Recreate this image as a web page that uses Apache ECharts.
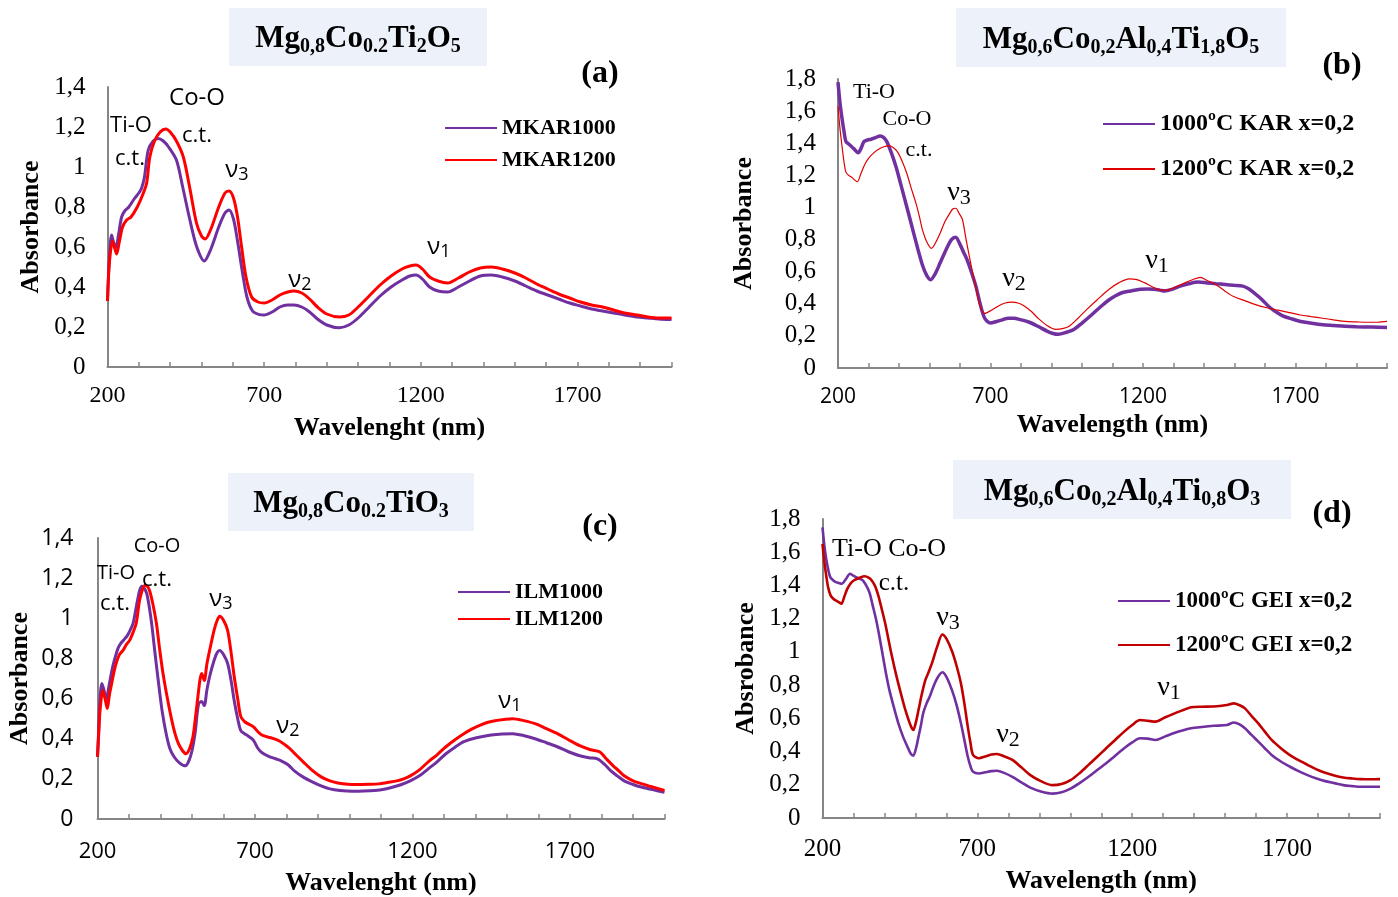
<!DOCTYPE html>
<html style="height: 100%">
<head>
    <meta charset="utf-8">
    <title>Absorbance spectra</title>
    <script src="https://cdn.jsdelivr.net/npm/echarts@6/dist/echarts.min.js"></script>
</head>
<body style="height: 100%; margin: 0; background: #fff">
<div id="main" style="width: 1398px; height: 897px"></div>

<script type="text/javascript">

    // ---- data: [wavelength nm, absorbance] ----
    var xTicks = [200, 700, 1200, 1700];

    var mkar1000 = [[200,0.33],[206,0.55],[213,0.66],[220,0.62],[227,0.6],[235,0.66],[245,0.75],[255,0.78],[268,0.8],[285,0.84],[300,0.87],[309,0.895],[318,0.95],[330,1.085],[346,1.13],[362,1.143],[378,1.13],[395,1.1],[420,1.035],[440,0.9],[463,0.735],[485,0.6],[509,0.53],[530,0.59],[555,0.7],[575,0.77],[588,0.785],[602,0.74],[615,0.63],[630,0.48],[645,0.35],[663,0.28],[685,0.262],[700,0.26],[725,0.275],[750,0.3],[775,0.31],[795,0.31],[820,0.3],[845,0.275],[870,0.24],[900,0.21],[940,0.196],[970,0.21],[1000,0.245],[1035,0.3],[1070,0.355],[1105,0.4],[1140,0.435],[1165,0.455],[1185,0.46],[1205,0.44],[1228,0.4],[1255,0.38],[1285,0.375],[1320,0.4],[1355,0.43],[1390,0.455],[1425,0.46],[1460,0.45],[1500,0.43],[1535,0.405],[1570,0.38],[1605,0.36],[1640,0.34],[1675,0.32],[1710,0.305],[1745,0.29],[1780,0.28],[1815,0.27],[1850,0.26],[1890,0.25],[1925,0.245],[1960,0.24],[2000,0.237]];
    var mkar1200 = [[200,0.33],[206,0.52],[216,0.63],[222,0.6],[229,0.565],[237,0.62],[248,0.7],[261,0.735],[275,0.75],[295,0.8],[312,0.86],[325,0.92],[335,1.05],[350,1.13],[368,1.175],[386,1.19],[400,1.175],[420,1.13],[442,1.05],[462,0.9],[484,0.72],[500,0.655],[512,0.64],[530,0.69],[555,0.8],[575,0.87],[588,0.88],[602,0.845],[615,0.75],[628,0.6],[642,0.45],[660,0.35],[680,0.325],[700,0.32],[725,0.335],[750,0.36],[775,0.375],[795,0.38],[820,0.37],[845,0.34],[870,0.3],[900,0.265],[940,0.25],[970,0.26],[1000,0.3],[1035,0.355],[1070,0.41],[1105,0.455],[1140,0.49],[1165,0.505],[1185,0.51],[1205,0.49],[1228,0.45],[1255,0.43],[1285,0.42],[1320,0.445],[1355,0.475],[1390,0.495],[1425,0.5],[1460,0.49],[1500,0.47],[1535,0.445],[1570,0.415],[1605,0.39],[1640,0.365],[1675,0.345],[1710,0.325],[1745,0.31],[1780,0.3],[1815,0.285],[1850,0.27],[1890,0.26],[1925,0.25],[1960,0.245],[2000,0.245]];

    var kar1000 = [[200,1.78],[206,1.66],[212,1.57],[220,1.47],[226,1.41],[235,1.395],[244,1.38],[255,1.36],[266,1.34],[276,1.37],[285,1.41],[297,1.42],[309,1.425],[323,1.435],[338,1.445],[350,1.435],[360,1.41],[375,1.34],[390,1.255],[405,1.15],[419,1.05],[433,0.95],[448,0.84],[462,0.74],[477,0.64],[490,0.58],[503,0.55],[518,0.585],[535,0.655],[555,0.74],[572,0.8],[586,0.815],[600,0.77],[612,0.72],[623,0.675],[637,0.6],[652,0.51],[666,0.4],[681,0.31],[700,0.28],[720,0.29],[739,0.3],[758,0.31],[776,0.31],[800,0.3],[827,0.285],[855,0.26],[885,0.23],[905,0.215],[922,0.21],[945,0.22],[973,0.24],[1000,0.28],[1031,0.33],[1060,0.38],[1089,0.425],[1110,0.45],[1133,0.47],[1160,0.48],[1191,0.49],[1215,0.492],[1235,0.49],[1255,0.485],[1271,0.48],[1295,0.49],[1322,0.51],[1350,0.525],[1381,0.535],[1410,0.53],[1439,0.525],[1470,0.52],[1497,0.515],[1527,0.51],[1545,0.495],[1563,0.47],[1588,0.43],[1614,0.38],[1636,0.35],[1658,0.325],[1690,0.305],[1717,0.29],[1750,0.28],[1789,0.27],[1825,0.265],[1862,0.26],[1900,0.257],[1950,0.255],[2000,0.253]];
    var kar1200 = [[200,1.63],[206,1.5],[212,1.4],[220,1.28],[226,1.22],[235,1.2],[244,1.19],[255,1.17],[263,1.16],[275,1.21],[287,1.265],[300,1.305],[317,1.34],[340,1.37],[355,1.38],[368,1.385],[383,1.37],[397,1.34],[412,1.28],[426,1.21],[440,1.12],[455,1.03],[466,0.95],[477,0.86],[490,0.79],[506,0.745],[520,0.78],[535,0.84],[550,0.91],[564,0.955],[576,0.99],[586,0.995],[598,0.96],[608,0.925],[620,0.8],[637,0.635],[652,0.5],[666,0.385],[681,0.34],[703,0.36],[725,0.385],[748,0.405],[769,0.41],[790,0.405],[812,0.385],[835,0.35],[856,0.31],[885,0.265],[914,0.24],[936,0.245],[958,0.26],[987,0.31],[1016,0.365],[1050,0.425],[1089,0.49],[1120,0.53],[1155,0.555],[1180,0.55],[1206,0.53],[1232,0.505],[1257,0.485],[1279,0.485],[1308,0.505],[1337,0.53],[1362,0.55],[1388,0.565],[1410,0.545],[1439,0.52],[1468,0.48],[1497,0.445],[1533,0.42],[1569,0.395],[1606,0.375],[1643,0.36],[1680,0.345],[1716,0.33],[1752,0.32],[1789,0.31],[1825,0.3],[1862,0.29],[1900,0.287],[1935,0.285],[1970,0.285],[2000,0.29]];

    var ilm1000 = [[200,0.31],[204,0.45],[207,0.575],[214,0.675],[221,0.64],[228,0.59],[235,0.65],[242,0.71],[250,0.77],[257,0.81],[265,0.85],[274,0.875],[285,0.895],[295,0.915],[305,0.945],[313,0.975],[320,1.03],[327,1.09],[334,1.14],[341,1.16],[348,1.15],[356,1.125],[365,1.05],[373,0.96],[383,0.82],[394,0.675],[405,0.54],[418,0.425],[430,0.35],[443,0.31],[460,0.28],[479,0.265],[490,0.29],[500,0.34],[510,0.43],[521,0.575],[531,0.585],[539,0.565],[547,0.64],[556,0.71],[570,0.79],[580,0.83],[588,0.84],[600,0.82],[613,0.775],[624,0.69],[634,0.59],[645,0.5],[655,0.44],[667,0.425],[677,0.415],[690,0.4],[698,0.385],[708,0.355],[719,0.335],[733,0.32],[747,0.31],[765,0.3],[783,0.29],[805,0.27],[825,0.24],[852,0.21],[882,0.185],[910,0.165],[938,0.15],[970,0.142],[1009,0.138],[1045,0.139],[1080,0.142],[1110,0.148],[1136,0.158],[1165,0.172],[1193,0.19],[1222,0.215],[1250,0.25],[1278,0.285],[1306,0.325],[1335,0.358],[1363,0.385],[1391,0.4],[1419,0.41],[1450,0.418],[1485,0.423],[1518,0.425],[1555,0.415],[1589,0.4],[1625,0.38],[1660,0.36],[1695,0.335],[1731,0.315],[1760,0.305],[1787,0.3],[1808,0.275],[1830,0.24],[1850,0.215],[1872,0.19],[1900,0.172],[1929,0.158],[1965,0.145],[2000,0.133]];
    var ilm1200 = [[200,0.31],[204,0.43],[208,0.54],[217,0.64],[224,0.6],[231,0.55],[238,0.62],[245,0.675],[252,0.73],[259,0.775],[270,0.82],[281,0.84],[292,0.87],[302,0.89],[313,0.93],[323,0.975],[333,1.085],[342,1.14],[351,1.165],[358,1.16],[365,1.14],[376,1.07],[387,0.975],[397,0.85],[408,0.725],[422,0.6],[436,0.49],[447,0.42],[457,0.375],[470,0.34],[481,0.325],[492,0.35],[503,0.41],[512,0.52],[521,0.64],[526,0.7],[531,0.725],[539,0.69],[547,0.77],[556,0.84],[570,0.94],[580,0.99],[588,1.01],[600,0.99],[613,0.94],[624,0.83],[634,0.71],[645,0.6],[655,0.51],[667,0.485],[677,0.475],[690,0.465],[698,0.455],[712,0.43],[726,0.415],[750,0.405],[776,0.39],[795,0.37],[811,0.35],[830,0.32],[853,0.285],[880,0.245],[910,0.21],[938,0.19],[967,0.178],[995,0.173],[1023,0.172],[1060,0.173],[1094,0.175],[1120,0.182],[1150,0.19],[1172,0.2],[1193,0.215],[1222,0.245],[1250,0.285],[1278,0.32],[1306,0.36],[1335,0.395],[1363,0.425],[1391,0.45],[1419,0.47],[1440,0.482],[1462,0.49],[1490,0.496],[1518,0.5],[1553,0.49],[1589,0.475],[1625,0.45],[1660,0.425],[1695,0.395],[1731,0.365],[1765,0.345],[1794,0.335],[1815,0.3],[1837,0.265],[1855,0.24],[1872,0.215],[1900,0.19],[1929,0.175],[1965,0.158],[2000,0.142]];

    var gei1000 = [[200,1.75],[206,1.64],[212,1.56],[218,1.5],[225,1.45],[235,1.43],[243,1.42],[252,1.415],[262,1.41],[276,1.44],[289,1.47],[298,1.46],[308,1.45],[320,1.44],[330,1.43],[341,1.4],[352,1.355],[362,1.28],[373,1.195],[384,1.09],[395,0.975],[405,0.87],[416,0.77],[430,0.67],[445,0.57],[460,0.49],[474,0.43],[484,0.39],[493,0.375],[502,0.42],[510,0.49],[518,0.56],[525,0.63],[536,0.69],[546,0.73],[558,0.79],[570,0.84],[587,0.877],[600,0.85],[618,0.77],[633,0.68],[647,0.57],[658,0.47],[669,0.37],[678,0.31],[686,0.278],[705,0.268],[725,0.275],[745,0.282],[763,0.284],[788,0.27],[813,0.248],[842,0.215],[871,0.183],[905,0.16],[943,0.147],[972,0.155],[1001,0.177],[1030,0.21],[1059,0.248],[1088,0.29],[1116,0.329],[1145,0.375],[1174,0.42],[1200,0.455],[1225,0.48],[1250,0.478],[1275,0.47],[1305,0.49],[1333,0.51],[1362,0.527],[1390,0.54],[1425,0.548],[1463,0.555],[1506,0.56],[1528,0.575],[1545,0.565],[1564,0.54],[1585,0.5],[1607,0.46],[1628,0.42],[1650,0.38],[1680,0.34],[1708,0.31],[1737,0.282],[1766,0.258],[1795,0.238],[1823,0.222],[1852,0.21],[1881,0.198],[1910,0.192],[1939,0.188],[1970,0.188],[2000,0.188]];
    var gei1200 = [[200,1.65],[206,1.54],[212,1.46],[218,1.39],[226,1.34],[235,1.32],[243,1.31],[252,1.3],[261,1.29],[270,1.33],[279,1.375],[290,1.41],[301,1.43],[318,1.445],[337,1.455],[350,1.445],[359,1.43],[370,1.395],[380,1.34],[391,1.26],[402,1.175],[413,1.075],[424,0.975],[438,0.86],[453,0.75],[466,0.66],[478,0.59],[486,0.55],[493,0.53],[502,0.58],[510,0.65],[520,0.74],[532,0.83],[543,0.88],[554,0.935],[570,1.03],[587,1.105],[600,1.08],[618,1.005],[633,0.915],[647,0.81],[658,0.69],[669,0.55],[678,0.45],[686,0.38],[705,0.36],[725,0.37],[745,0.382],[763,0.385],[788,0.37],[813,0.35],[842,0.305],[871,0.258],[905,0.222],[943,0.198],[972,0.205],[1001,0.228],[1030,0.27],[1059,0.32],[1088,0.37],[1116,0.42],[1145,0.47],[1174,0.52],[1200,0.56],[1225,0.59],[1250,0.585],[1275,0.58],[1305,0.605],[1333,0.627],[1362,0.648],[1390,0.667],[1425,0.67],[1463,0.671],[1506,0.68],[1528,0.69],[1545,0.68],[1564,0.66],[1585,0.615],[1607,0.57],[1628,0.52],[1650,0.47],[1680,0.42],[1708,0.38],[1737,0.348],[1766,0.32],[1795,0.293],[1823,0.272],[1852,0.256],[1881,0.244],[1910,0.238],[1939,0.234],[1970,0.233],[2000,0.234]];

    var SERIF = '"Liberation Serif", "Times New Roman", serif';
    var SANS = '"Open Sans", "Noto Sans", sans-serif';
    var AXIS = '#868686';
    var PURPLE = '#7030A0';

    // grids, fonts and gaps of the four panels
    var panels = [
        {grid: {left: 107.5, top: 87, width: 564, height: 280}, ymax: 1.4,
         xFont: SERIF, xSize: 24, xMargin: 17, yFont: SERIF, ySize: 25, yMargin: 22,
         xName: 'Wavelenght (nm)', xGap: 48, yName: 'Absorbance', yGap: 63},
        {grid: {left: 838, top: 79, width: 549, height: 289}, ymax: 1.8,
         xFont: SANS, xSize: 21, xMargin: 19, yFont: SERIF, ySize: 25, yMargin: 22,
         xName: 'Wavelength (nm)', xGap: 44, yName: 'Absorbance', yGap: 81},
        {grid: {left: 97.5, top: 538, width: 567, height: 281}, ymax: 1.4,
         xFont: SANS, xSize: 22, xMargin: 22, yFont: SANS, ySize: 23, yMargin: 24,
         xName: 'Wavelenght (nm)', xGap: 51, yName: 'Absorbance', yGap: 64},
        {grid: {left: 822.5, top: 519, width: 557.5, height: 299}, ymax: 1.8,
         xFont: SERIF, xSize: 25, xMargin: 19, yFont: SERIF, ySize: 25, yMargin: 22,
         xName: 'Wavelength (nm)', xGap: 50, yName: 'Absrobance', yGap: 63}
    ];

    function commaLabel(v) {
        return String(+v.toFixed(1)).replace('.', ',');
    }

    var grids = [], xAxes = [], yAxes = [];
    panels.forEach(function (p, i) {
        grids.push(p.grid);
        xAxes.push({
            type: 'value', gridIndex: i, min: 200, max: 2000, interval: 100,
            axisLine: {lineStyle: {color: AXIS, width: 2}},
            axisTick: {inside: true, length: 5, lineStyle: {color: AXIS, width: 1.5}},
            splitLine: {show: false},
            axisLabel: {
                color: '#000', fontFamily: p.xFont, fontSize: p.xSize, margin: p.xMargin,
                formatter: function (v) { return xTicks.indexOf(v) >= 0 ? String(v) : ''; }
            },
            name: p.xName, nameLocation: 'middle', nameGap: p.xGap,
            nameTextStyle: {color: '#000', fontFamily: SERIF, fontWeight: 'bold', fontSize: 26}
        });
        yAxes.push({
            type: 'value', gridIndex: i, min: 0, max: p.ymax, interval: 0.2,
            axisLine: {show: true, lineStyle: {color: AXIS, width: 2}},
            axisTick: {show: false},
            splitLine: {show: false},
            axisLabel: {color: '#000', fontFamily: p.yFont, fontSize: p.ySize, margin: p.yMargin,
                        formatter: commaLabel},
            name: p.yName, nameLocation: 'middle', nameGap: p.yGap,
            nameTextStyle: {color: '#000', fontFamily: SERIF, fontWeight: 'bold', fontSize: 26}
        });
    });

    function line(name, data, idx, color, width) {
        return {
            name: name, type: 'line', data: data, xAxisIndex: idx, yAxisIndex: idx,
            symbol: 'none', smooth: 0.3, silent: true,
            lineStyle: {color: color, width: width}, itemStyle: {color: color}
        };
    }

    var series = [
        line('MKAR1000', mkar1000, 0, PURPLE, 3),
        line('MKAR1200', mkar1200, 0, '#FF0000', 3),
        line('1000ºC KAR x=0,2', kar1000, 1, PURPLE, 3.5),
        line('1200ºC KAR x=0,2', kar1200, 1, '#E00000', 1.2),
        line('ILM1000', ilm1000, 2, PURPLE, 3),
        line('ILM1200', ilm1200, 2, '#FF0000', 3),
        line('1000ºC GEI x=0,2', gei1000, 3, PURPLE, 2.6),
        line('1200ºC GEI x=0,2', gei1200, 3, '#C00000', 2.6)
    ];

    function legend(names, left, top, gap, size) {
        return {
            data: names, left: left, top: top, orient: 'vertical', padding: 0,
            itemWidth: 52, itemHeight: 14, itemGap: gap, selectedMode: false,
            itemStyle: {opacity: 0},
            textStyle: {color: '#000', fontFamily: SERIF, fontWeight: 'bold', fontSize: size, lineHeight: 24}
        };
    }

    // title boxes with chemical formulas
    function formula(parts) {
        // parts alternate: element, subscript, element, subscript ...
        return parts.map(function (s, k) { return '{' + (k % 2 ? 's' : 'm') + '|' + s + '}'; }).join('');
    }
    var formulaRich = {
        m: {fontFamily: SERIF, fontWeight: 'bold', fontSize: 31, lineHeight: 36, fill: '#000'},
        s: {fontFamily: SERIF, fontWeight: 'bold', fontSize: 20, lineHeight: 24, verticalAlign: 'bottom', fill: '#000'}
    };
    function titleBox(x, y, w, h, parts) {
        return [
            {type: 'rect', shape: {x: x, y: y, width: w, height: h}, style: {fill: '#EDF2FA'}, z: 1},
            {type: 'text', x: x + w / 2, y: y + h / 2 + 2, z: 2,
             style: {text: formula(parts), rich: formulaRich, align: 'center', verticalAlign: 'middle'}}
        ];
    }
    function txt(x, y, s, family, size, weight) {
        return {type: 'text', x: x, y: y, z: 5,
                style: {text: s, fontFamily: family, fontSize: size, fontWeight: weight || 'normal',
                        fill: '#000', align: 'center', verticalAlign: 'middle'}};
    }
    function nu(x, y, d, family, size, subSize) {
        return {type: 'text', x: x, y: y, z: 5,
                style: {text: '{n|ν}{d|' + d + '}', align: 'center', verticalAlign: 'middle',
                        rich: {n: {fontFamily: family, fontSize: size, lineHeight: size + 4, fill: '#000'},
                               d: {fontFamily: family, fontSize: subSize, lineHeight: subSize, verticalAlign: 'bottom', fill: '#000'}}}};
    }

    var graphic = [].concat(
        titleBox(229, 8, 258, 58, ['Mg', '0,8', 'Co', '0.2', 'Ti', '2', 'O', '5']),
        titleBox(956, 8, 330, 59, ['Mg', '0,6', 'Co', '0,2', 'Al', '0,4', 'Ti', '1,8', 'O', '5']),
        titleBox(228, 473, 246, 58, ['Mg', '0,8', 'Co', '0.2', 'TiO', '3']),
        titleBox(953, 460, 338, 59, ['Mg', '0,6', 'Co', '0,2', 'Al', '0,4', 'Ti', '0,8', 'O', '3']),
        [
            txt(600, 74, '(a)', SERIF, 32, 'bold'),
            txt(1342, 66, '(b)', SERIF, 32, 'bold'),
            txt(600, 527, '(c)', SERIF, 32, 'bold'),
            txt(1332, 514, '(d)', SERIF, 32, 'bold'),

            txt(131, 126, 'Ti-O', SANS, 22),
            txt(130, 159, 'c.t.', SANS, 22),
            txt(197, 98, 'Co-O', SANS, 24),
            txt(197, 136, 'c.t.', SANS, 22),
            nu(237, 170, '3', SANS, 24, 18),
            nu(300, 280, '2', SANS, 24, 18),
            nu(439, 247, '1', SANS, 24, 18),

            txt(874, 92, 'Ti-O', SERIF, 22),
            txt(907, 119, 'Co-O', SERIF, 22),
            txt(919, 150, 'c.t.', SERIF, 22),
            nu(959, 193, '3', SERIF, 28, 22),
            nu(1014, 279, '2', SERIF, 28, 22),
            nu(1157, 261, '1', SERIF, 28, 22),

            txt(157, 546, 'Co-O', SANS, 20),
            txt(116, 573, 'Ti-O', SANS, 20),
            txt(157, 580, 'c.t.', SANS, 22),
            txt(115, 604, 'c.t.', SANS, 22),
            nu(221, 599, '3', SANS, 24, 18),
            nu(288, 726, '2', SANS, 24, 18),
            nu(510, 701, '1', SANS, 24, 18),

            txt(889, 549, 'Ti-O Co-O', SERIF, 26),
            txt(894, 583, 'c.t.', SERIF, 25),
            nu(948, 618, '3', SERIF, 28, 22),
            nu(1008, 735, '2', SERIF, 28, 22),
            nu(1169, 688, '1', SERIF, 28, 22)
        ]
    );

    var myChart = echarts.init(document.getElementById('main'));
    var option = {
        backgroundColor: '#fff',
        animation: false,
        grid: grids,
        xAxis: xAxes,
        yAxis: yAxes,
        legend: [
            legend(['MKAR1000', 'MKAR1200'], 444, 116, 8, 22),
            legend(['1000ºC KAR x=0,2', '1200ºC KAR x=0,2'], 1102, 112, 21, 24),
            legend(['ILM1000', 'ILM1200'], 457, 580, 3, 22),
            legend(['1000ºC GEI x=0,2', '1200ºC GEI x=0,2'], 1117, 589, 20, 23)
        ],
        graphic: graphic,
        series: series
    };
    myChart.setOption(option, true);

</script>
</body>
</html>
